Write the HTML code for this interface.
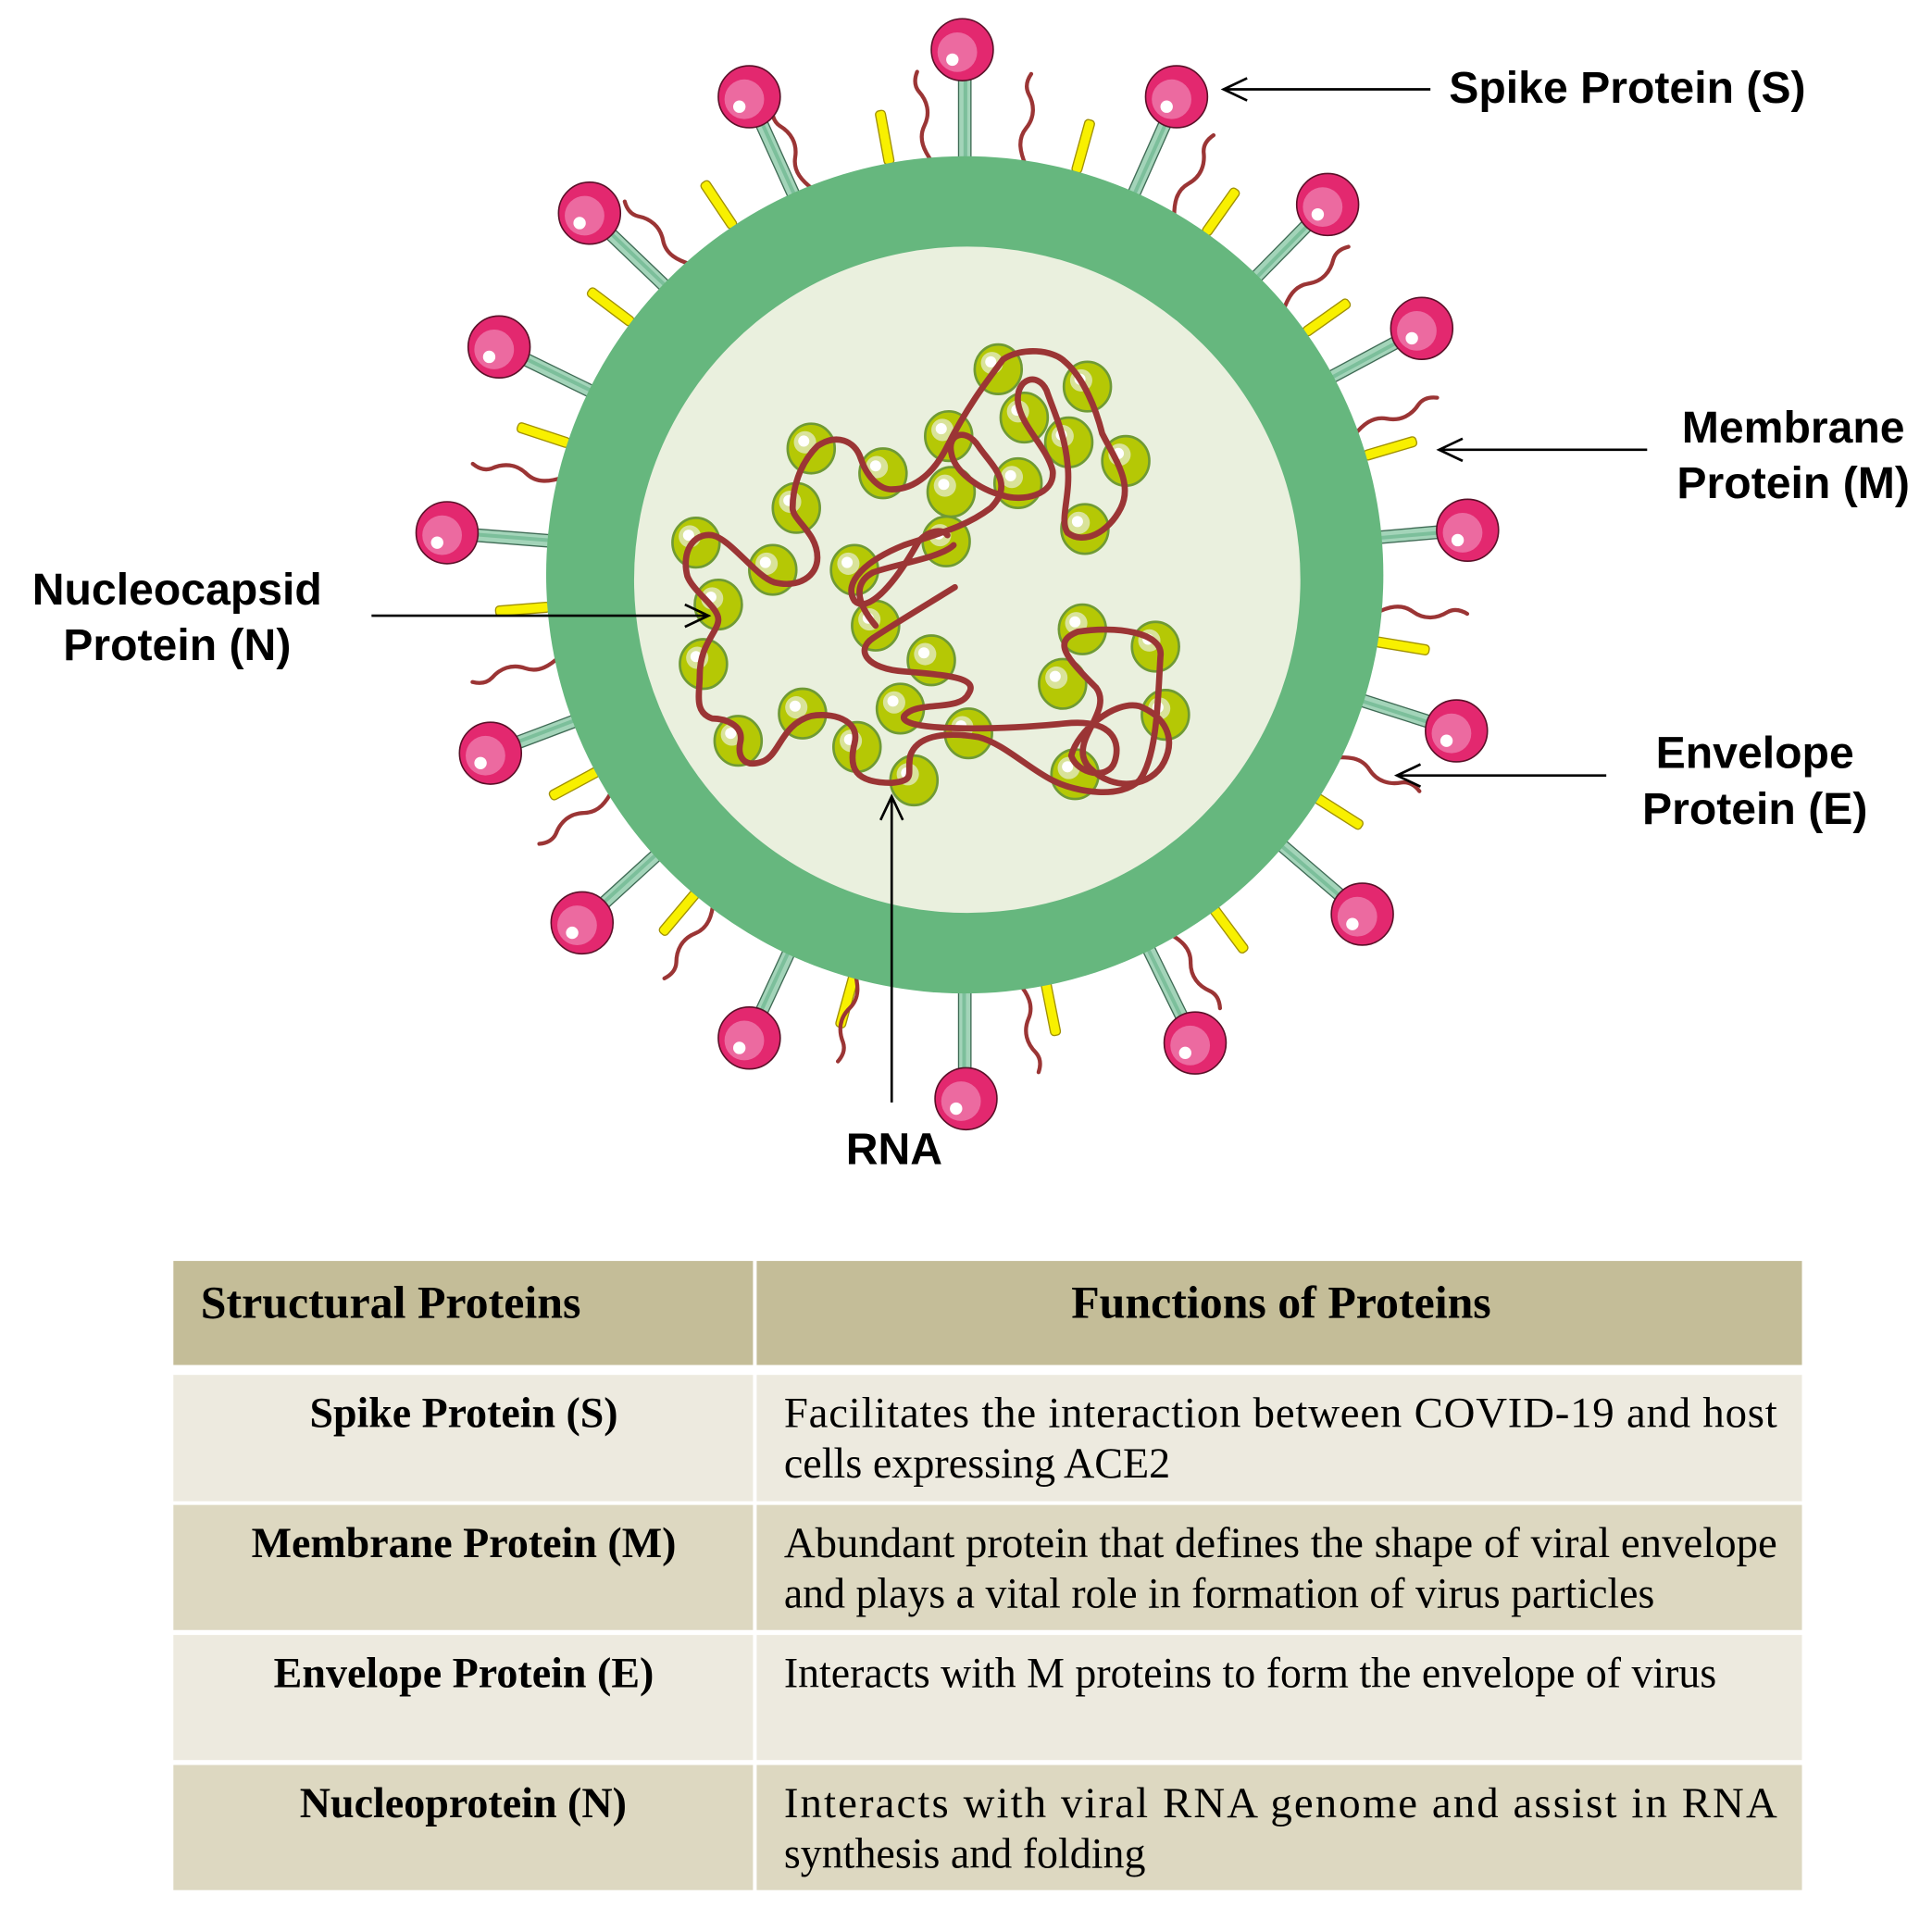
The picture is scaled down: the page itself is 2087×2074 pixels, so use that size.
<!DOCTYPE html>
<html><head><meta charset="utf-8"><style>html,body{margin:0;padding:0;background:#fff}svg{display:block}</style></head>
<body>
<svg width="2087" height="2074" viewBox="0 0 1560 1550" xmlns="http://www.w3.org/2000/svg">
<defs>
<g id="stalk"><rect x="774" y="40" width="10" height="120" fill="#a3d4b9" stroke="#3f6b55" stroke-width="1"/><rect x="778" y="40" width="3" height="120" fill="#7cbf9b"/></g>
<g id="bar"><rect x="775" y="83" width="8" height="44" rx="3" fill="#f8f000" stroke="#a09000" stroke-width="1"/></g>
<path id="sq" d="M782,130 C776,120 772,110 778,100 C784,90 782,80 776,72 C772,66 774,60 776,56" fill="none" stroke="#9b3535" stroke-width="3.2" stroke-linecap="round"/>
<g id="ball"><circle r="25" fill="#e3286f" stroke="#5a1028" stroke-width="1.2"/><circle cx="-4" cy="2" r="16" fill="#ec6aa0"/><circle cx="-8" cy="8" r="5" fill="#fff"/></g>
<g id="bead"><ellipse rx="19" ry="20" fill="#b5c805" stroke="#6f9a35" stroke-width="2"/><circle cx="-5" cy="-5" r="9" fill="#d9e39a"/><circle cx="-6" cy="-6" r="4.5" fill="#fff"/></g>
<marker id="ah" markerWidth="24" markerHeight="24" refX="21" refY="12" orient="auto" markerUnits="userSpaceOnUse"><path d="M2,3 L21,12 L2,21" fill="none" stroke="#000" stroke-width="2"/></marker>
</defs>

<g>
<use href="#stalk" transform="rotate(0,779,463)"/>
<use href="#stalk" transform="rotate(24,779,463)"/>
<use href="#stalk" transform="rotate(44.5,779,463)"/>
<use href="#stalk" transform="rotate(61.8,779,463)"/>
<use href="#stalk" transform="rotate(85,779,463)"/>
<use href="#stalk" transform="rotate(107.7,779,463)"/>
<use href="#stalk" transform="rotate(130.6,779,463)"/>
<use href="#stalk" transform="rotate(153.9,779,463)"/>
<use href="#stalk" transform="rotate(180,779,463)"/>
<use href="#stalk" transform="rotate(204.9,779,463)"/>
<use href="#stalk" transform="rotate(227.6,779,463)"/>
<use href="#stalk" transform="rotate(249.3,779,463)"/>
<use href="#stalk" transform="rotate(274.5,779,463)"/>
<use href="#stalk" transform="rotate(296,779,463)"/>
<use href="#stalk" transform="rotate(313.8,779,463)"/>
<use href="#stalk" transform="rotate(335.7,779,463)"/>
</g>
<g>
<use href="#bar" transform="rotate(349.6,779,463)"/>
<use href="#bar" transform="rotate(15.5,779,463)"/>
<use href="#bar" transform="rotate(326.3,779,463)"/>
<use href="#bar" transform="rotate(35.3,779,463)"/>
<use href="#bar" transform="rotate(307,779,463)"/>
<use href="#bar" transform="rotate(54.7,779,463)"/>
<use href="#bar" transform="rotate(288.2,779,463)"/>
<use href="#bar" transform="rotate(73.6,779,463)"/>
<use href="#bar" transform="rotate(265.4,779,463)"/>
<use href="#bar" transform="rotate(99.4,779,463)"/>
<use href="#bar" transform="rotate(241.7,779,463)"/>
<use href="#bar" transform="rotate(122.5,779,463)"/>
<use href="#bar" transform="rotate(220.1,779,463)"/>
<use href="#bar" transform="rotate(143.4,779,463)"/>
<use href="#bar" transform="rotate(195.4,779,463)"/>
<use href="#bar" transform="rotate(168.8,779,463)"/>
</g>
<g>
<use href="#sq" transform="rotate(-5,779,463)"/>
<use href="#sq" transform="rotate(8,779,463)"/>
<use href="#sq" transform="rotate(30,779,463)"/>
<use href="#sq" transform="rotate(50,779,463)"/>
<use href="#sq" transform="rotate(70,779,463)"/>
<use href="#sq" transform="rotate(95,779,463)"/>
<use href="#sq" transform="rotate(116,779,463)"/>
<use href="#sq" transform="rotate(150,779,463)"/>
<use href="#sq" transform="rotate(172,779,463)"/>
<use href="#sq" transform="rotate(195,779,463)"/>
<use href="#sq" transform="rotate(217,779,463)"/>
<use href="#sq" transform="rotate(238,779,463)"/>
<use href="#sq" transform="rotate(258,779,463)"/>
<use href="#sq" transform="rotate(283,779,463)"/>
<use href="#sq" transform="rotate(318,779,463)"/>
<use href="#sq" transform="rotate(338,779,463)"/>
</g>

<circle cx="779" cy="464" r="338" fill="#66b77e"/>
<circle cx="781" cy="468" r="269" fill="#eaf0de"/>

<use href="#ball" x="777" y="40"/>
<use href="#ball" x="950" y="78"/>
<use href="#ball" x="1072" y="165"/>
<use href="#ball" x="1148" y="265"/>
<use href="#ball" x="1185" y="428"/>
<use href="#ball" x="1176" y="590"/>
<use href="#ball" x="1100" y="738"/>
<use href="#ball" x="965" y="842"/>
<use href="#ball" x="780" y="887"/>
<use href="#ball" x="605" y="838"/>
<use href="#ball" x="470" y="745"/>
<use href="#ball" x="396" y="608"/>
<use href="#ball" x="361" y="430"/>
<use href="#ball" x="403" y="280"/>
<use href="#ball" x="476" y="172"/>
<use href="#ball" x="605" y="78"/>

<g>
<use href="#bead" x="806" y="298"/><use href="#bead" x="878" y="312"/><use href="#bead" x="655" y="362"/>
<use href="#bead" x="766" y="352"/><use href="#bead" x="827" y="337"/><use href="#bead" x="863" y="357"/>
<use href="#bead" x="909" y="372"/><use href="#bead" x="713" y="382"/><use href="#bead" x="768" y="397"/>
<use href="#bead" x="822" y="390"/><use href="#bead" x="643" y="410"/><use href="#bead" x="876" y="427"/>
<use href="#bead" x="562" y="438"/><use href="#bead" x="624" y="460"/><use href="#bead" x="690" y="460"/>
<use href="#bead" x="764" y="437"/><use href="#bead" x="580" y="488"/><use href="#bead" x="707" y="505"/>
<use href="#bead" x="568" y="536"/><use href="#bead" x="752" y="533"/><use href="#bead" x="874" y="508"/>
<use href="#bead" x="933" y="522"/><use href="#bead" x="858" y="552"/><use href="#bead" x="941" y="577"/>
<use href="#bead" x="648" y="576"/><use href="#bead" x="727" y="572"/><use href="#bead" x="596" y="598"/>
<use href="#bead" x="692" y="603"/><use href="#bead" x="782" y="592"/><use href="#bead" x="868" y="625"/>
<use href="#bead" x="738" y="630"/>
</g>
<path d="M771,474 C745,490 720,505 705,515 C690,525 700,540 730,542 C770,545 790,548 782,560 C775,575 740,565 730,578 C725,590 800,590 860,584 C900,580 905,600 900,615 C895,630 870,625 865,610 C870,590 900,565 920,570 C940,578 950,595 940,615 C930,635 900,640 880,620 C860,600 900,575 885,555 C860,530 850,518 870,510 C900,505 940,510 937,530 C935,560 935,610 920,630 C905,645 870,640 850,630 C830,620 810,600 790,595 C760,590 740,595 735,610 C732,625 740,630 720,632 C690,632 685,620 690,600 C695,580 670,575 655,578 C630,585 630,610 615,615 C600,620 595,610 598,598 C600,585 585,580 575,580 C560,575 565,560 565,545 C565,520 580,510 580,500 C580,490 560,478 555,465 C550,445 560,430 575,432 C590,435 610,465 625,470 C645,475 660,465 660,450 C660,430 640,420 640,410 C640,395 645,375 660,360 C675,350 690,355 695,370 C700,385 710,395 720,395 C740,395 755,380 765,360 C780,330 795,310 810,290 C825,280 850,282 860,292 C875,305 885,330 890,350 C900,370 915,390 905,410 C895,430 875,440 862,430 C855,420 865,400 862,375 C860,350 850,330 845,315 C838,300 820,305 822,325 C825,345 845,360 850,380 C852,400 825,405 810,400 C790,395 770,380 768,365 C765,350 780,345 790,360 C800,375 820,390 800,410 C780,425 760,430 730,440 C700,452 680,470 690,485 C700,495 720,475 740,440 C745,430 760,425 765,432" fill="none" stroke="#9b3535" stroke-width="5" stroke-linecap="round" stroke-linejoin="round"/>
<path d="M707,505 C690,485 690,470 705,462 C725,455 760,450 770,440" fill="none" stroke="#9b3535" stroke-width="5" stroke-linecap="round"/>

<g stroke="#000" stroke-width="2" fill="none">
<line x1="1155" y1="72" x2="988" y2="72" marker-end="url(#ah)"/>
<line x1="1330" y1="363" x2="1162" y2="363" marker-end="url(#ah)"/>
<line x1="300" y1="497" x2="572" y2="497" marker-end="url(#ah)"/>
<line x1="1297" y1="626" x2="1128" y2="626" marker-end="url(#ah)"/>
<line x1="720" y1="890" x2="720" y2="643" marker-end="url(#ah)"/>
</g>

<g font-family="Liberation Sans, Arial, sans-serif" font-weight="bold" font-size="36" fill="#000">
<text x="1170" y="83">Spike Protein (S)</text>
<text x="1448" y="357" text-anchor="middle">Membrane</text>
<text x="1448" y="402" text-anchor="middle">Protein (M)</text>
<text x="143" y="488" text-anchor="middle">Nucleocapsid</text>
<text x="143" y="533" text-anchor="middle">Protein (N)</text>
<text x="1417" y="620" text-anchor="middle">Envelope</text>
<text x="1417" y="665" text-anchor="middle">Protein (E)</text>
<text x="722" y="940" text-anchor="middle">RNA</text>
</g>

<rect x="140" y="1018" width="1315" height="508" fill="#fff"/>
<rect x="140" y="1018" width="468" height="84" fill="#c4bd98"/>
<rect x="611" y="1018" width="844" height="84" fill="#c4bd98"/>
<rect x="140" y="1110" width="468" height="102" fill="#edeadf"/>
<rect x="611" y="1110" width="844" height="102" fill="#edeadf"/>
<rect x="140" y="1215" width="468" height="101" fill="#ddd8c1"/>
<rect x="611" y="1215" width="844" height="101" fill="#ddd8c1"/>
<rect x="140" y="1320" width="468" height="101" fill="#edeadf"/>
<rect x="611" y="1320" width="844" height="101" fill="#edeadf"/>
<rect x="140" y="1425" width="468" height="101" fill="#ddd8c1"/>
<rect x="611" y="1425" width="844" height="101" fill="#ddd8c1"/>

<g font-family="Liberation Serif, 'Times New Roman', serif" fill="#000">
<g font-weight="bold" font-size="37">
<text x="162" y="1064" textLength="307" lengthAdjust="spacingAndGlyphs">Structural Proteins</text>
<text x="865" y="1064" textLength="339" lengthAdjust="spacingAndGlyphs">Functions of Proteins</text>
</g>
<g font-weight="bold" font-size="35">
<text x="250" y="1152" textLength="249" lengthAdjust="spacingAndGlyphs">Spike Protein (S)</text>
<text x="203" y="1257" textLength="343" lengthAdjust="spacingAndGlyphs">Membrane Protein (M)</text>
<text x="221" y="1362" textLength="307" lengthAdjust="spacingAndGlyphs">Envelope Protein (E)</text>
<text x="242" y="1467" textLength="264" lengthAdjust="spacingAndGlyphs">Nucleoprotein (N)</text>
</g>
<g font-size="35">
<text x="633" y="1152" textLength="802" lengthAdjust="spacing">Facilitates the interaction between COVID-19 and host</text>
<text x="633" y="1193" textLength="312" lengthAdjust="spacingAndGlyphs">cells expressing ACE2</text>
<text x="633" y="1257" textLength="802" lengthAdjust="spacingAndGlyphs">Abundant protein that defines the shape of viral envelope</text>
<text x="633" y="1298" textLength="703" lengthAdjust="spacingAndGlyphs">and plays a vital role in formation of virus particles</text>
<text x="633" y="1362" textLength="753" lengthAdjust="spacingAndGlyphs">Interacts with M proteins to form the envelope of virus</text>
<text x="633" y="1467" textLength="802" lengthAdjust="spacing">Interacts with viral RNA genome and assist in RNA</text>
<text x="633" y="1508" textLength="292" lengthAdjust="spacingAndGlyphs">synthesis and folding</text>
</g>
</g>
</svg>
</body></html>
